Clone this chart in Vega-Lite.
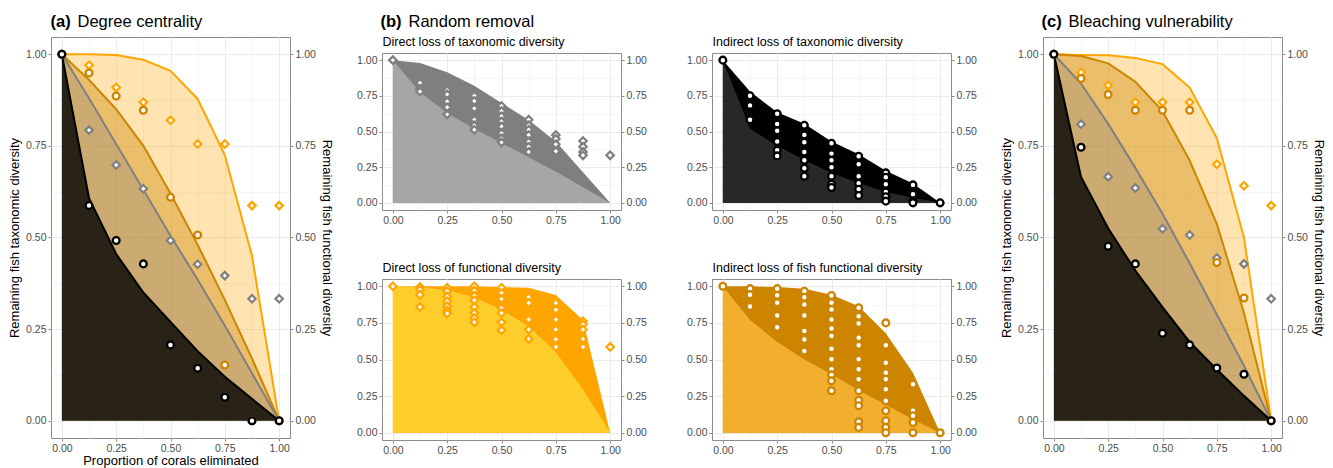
{
"$schema": "https://vega.github.io/schema/vega-lite/v6.json",
"background": "white",
"padding": {"left": 8, "top": 13, "right": 5, "bottom": 0},
"config": {
  "font": "Liberation Sans",
  "view": {"stroke": "#8C8C8C", "strokeWidth": 1},
  "axis": {"labelFont": "Liberation Sans", "labelFontSize": 10.5, "labelColor": "#4D4D4D", "titleFont": "Liberation Sans", "titleFontSize": 13, "titleFontWeight": "normal", "titleColor": "#000000", "tickColor": "#8C8C8C", "tickSize": 3, "tickWidth": 1, "domain": false, "labelPadding": 2, "labelOverlap": false, "labelFlush": false, "grid": false}
},
"datasets": {
  "lines": [
    {"p":"a","g":"DF","x":0,"y":1},{"p":"a","g":"DF","x":0.125,"y":1.0},{"p":"a","g":"DF","x":0.25,"y":0.998},{"p":"a","g":"DF","x":0.375,"y":0.985},{"p":"a","g":"DF","x":0.5,"y":0.955},{"p":"a","g":"DF","x":0.625,"y":0.878},{"p":"a","g":"DF","x":0.75,"y":0.725},{"p":"a","g":"DF","x":0.875,"y":0.45},{"p":"a","g":"DF","x":1,"y":0},
    {"p":"a","g":"IF","x":0,"y":1},{"p":"a","g":"IF","x":0.125,"y":0.93},{"p":"a","g":"IF","x":0.25,"y":0.85},{"p":"a","g":"IF","x":0.375,"y":0.75},{"p":"a","g":"IF","x":0.5,"y":0.62},{"p":"a","g":"IF","x":0.625,"y":0.48},{"p":"a","g":"IF","x":0.75,"y":0.33},{"p":"a","g":"IF","x":0.875,"y":0.17},{"p":"a","g":"IF","x":1,"y":0},
    {"p":"a","g":"DT","x":0,"y":1},{"p":"a","g":"DT","x":0.125,"y":0.88},{"p":"a","g":"DT","x":0.25,"y":0.755},{"p":"a","g":"DT","x":0.375,"y":0.63},{"p":"a","g":"DT","x":0.5,"y":0.505},{"p":"a","g":"DT","x":0.625,"y":0.385},{"p":"a","g":"DT","x":0.75,"y":0.26},{"p":"a","g":"DT","x":0.875,"y":0.13},{"p":"a","g":"DT","x":1,"y":0},
    {"p":"a","g":"IT","x":0,"y":1},{"p":"a","g":"IT","x":0.125,"y":0.607},{"p":"a","g":"IT","x":0.25,"y":0.455},{"p":"a","g":"IT","x":0.375,"y":0.35},{"p":"a","g":"IT","x":0.5,"y":0.27},{"p":"a","g":"IT","x":0.625,"y":0.19},{"p":"a","g":"IT","x":0.75,"y":0.12},{"p":"a","g":"IT","x":0.875,"y":0.06},{"p":"a","g":"IT","x":1,"y":0},
    {"p":"c","g":"DF","x":0,"y":1},{"p":"c","g":"DF","x":0.125,"y":0.998},{"p":"c","g":"DF","x":0.25,"y":0.997},{"p":"c","g":"DF","x":0.375,"y":0.99},{"p":"c","g":"DF","x":0.5,"y":0.973},{"p":"c","g":"DF","x":0.625,"y":0.909},{"p":"c","g":"DF","x":0.75,"y":0.771},{"p":"c","g":"DF","x":0.875,"y":0.5},{"p":"c","g":"DF","x":1,"y":0},
    {"p":"c","g":"IF","x":0,"y":1},{"p":"c","g":"IF","x":0.125,"y":0.995},{"p":"c","g":"IF","x":0.25,"y":0.975},{"p":"c","g":"IF","x":0.375,"y":0.925},{"p":"c","g":"IF","x":0.5,"y":0.845},{"p":"c","g":"IF","x":0.625,"y":0.71},{"p":"c","g":"IF","x":0.75,"y":0.537},{"p":"c","g":"IF","x":0.875,"y":0.294},{"p":"c","g":"IF","x":1,"y":0},
    {"p":"c","g":"DT","x":0,"y":1},{"p":"c","g":"DT","x":0.125,"y":0.92},{"p":"c","g":"DT","x":0.25,"y":0.81},{"p":"c","g":"DT","x":0.375,"y":0.69},{"p":"c","g":"DT","x":0.5,"y":0.565},{"p":"c","g":"DT","x":0.625,"y":0.43},{"p":"c","g":"DT","x":0.75,"y":0.29},{"p":"c","g":"DT","x":0.875,"y":0.15},{"p":"c","g":"DT","x":1,"y":0},
    {"p":"c","g":"IT","x":0,"y":1},{"p":"c","g":"IT","x":0.125,"y":0.665},{"p":"c","g":"IT","x":0.25,"y":0.525},{"p":"c","g":"IT","x":0.375,"y":0.41},{"p":"c","g":"IT","x":0.5,"y":0.31},{"p":"c","g":"IT","x":0.625,"y":0.215},{"p":"c","g":"IT","x":0.75,"y":0.14},{"p":"c","g":"IT","x":0.875,"y":0.068},{"p":"c","g":"IT","x":1,"y":0}
  ],
  "pts": [
    {"p":"a","g":"DF","x":0,"y":1},{"p":"a","g":"DF","x":0.125,"y":0.97},{"p":"a","g":"DF","x":0.25,"y":0.909},{"p":"a","g":"DF","x":0.375,"y":0.869},{"p":"a","g":"DF","x":0.5,"y":0.82},{"p":"a","g":"DF","x":0.625,"y":0.755},{"p":"a","g":"DF","x":0.75,"y":0.755},{"p":"a","g":"DF","x":0.875,"y":0.587},{"p":"a","g":"DF","x":1,"y":0.587},
    {"p":"a","g":"DT","x":0,"y":1},{"p":"a","g":"DT","x":0.125,"y":0.793},{"p":"a","g":"DT","x":0.25,"y":0.698},{"p":"a","g":"DT","x":0.375,"y":0.633},{"p":"a","g":"DT","x":0.5,"y":0.492},{"p":"a","g":"DT","x":0.625,"y":0.427},{"p":"a","g":"DT","x":0.75,"y":0.396},{"p":"a","g":"DT","x":0.875,"y":0.333},{"p":"a","g":"DT","x":1,"y":0.333},
    {"p":"a","g":"IF","x":0,"y":1},{"p":"a","g":"IF","x":0.125,"y":0.949},{"p":"a","g":"IF","x":0.25,"y":0.886},{"p":"a","g":"IF","x":0.375,"y":0.847},{"p":"a","g":"IF","x":0.5,"y":0.61},{"p":"a","g":"IF","x":0.625,"y":0.507},{"p":"a","g":"IF","x":0.75,"y":0.152},{"p":"a","g":"IF","x":0.875,"y":0},{"p":"a","g":"IF","x":1,"y":0},
    {"p":"a","g":"IT","x":0,"y":1},{"p":"a","g":"IT","x":0.125,"y":0.587},{"p":"a","g":"IT","x":0.25,"y":0.492},{"p":"a","g":"IT","x":0.375,"y":0.428},{"p":"a","g":"IT","x":0.5,"y":0.207},{"p":"a","g":"IT","x":0.625,"y":0.143},{"p":"a","g":"IT","x":0.75,"y":0.064},{"p":"a","g":"IT","x":0.875,"y":0},{"p":"a","g":"IT","x":1,"y":0},
    {"p":"c","g":"DF","x":0,"y":1},{"p":"c","g":"DF","x":0.125,"y":0.951},{"p":"c","g":"DF","x":0.25,"y":0.915},{"p":"c","g":"DF","x":0.375,"y":0.869},{"p":"c","g":"DF","x":0.5,"y":0.869},{"p":"c","g":"DF","x":0.625,"y":0.869},{"p":"c","g":"DF","x":0.75,"y":0.7},{"p":"c","g":"DF","x":0.875,"y":0.641},{"p":"c","g":"DF","x":1,"y":0.587},
    {"p":"c","g":"DT","x":0,"y":1},{"p":"c","g":"DT","x":0.125,"y":0.809},{"p":"c","g":"DT","x":0.25,"y":0.666},{"p":"c","g":"DT","x":0.375,"y":0.635},{"p":"c","g":"DT","x":0.5,"y":0.524},{"p":"c","g":"DT","x":0.625,"y":0.507},{"p":"c","g":"DT","x":0.75,"y":0.444},{"p":"c","g":"DT","x":0.875,"y":0.428},{"p":"c","g":"DT","x":1,"y":0.333},
    {"p":"c","g":"IF","x":0,"y":1},{"p":"c","g":"IF","x":0.125,"y":0.934},{"p":"c","g":"IF","x":0.25,"y":0.89},{"p":"c","g":"IF","x":0.375,"y":0.847},{"p":"c","g":"IF","x":0.5,"y":0.847},{"p":"c","g":"IF","x":0.625,"y":0.847},{"p":"c","g":"IF","x":0.75,"y":0.432},{"p":"c","g":"IF","x":0.875,"y":0.335},{"p":"c","g":"IF","x":1,"y":0},
    {"p":"c","g":"IT","x":0,"y":1},{"p":"c","g":"IT","x":0.125,"y":0.746},{"p":"c","g":"IT","x":0.25,"y":0.476},{"p":"c","g":"IT","x":0.375,"y":0.428},{"p":"c","g":"IT","x":0.5,"y":0.239},{"p":"c","g":"IT","x":0.625,"y":0.207},{"p":"c","g":"IT","x":0.75,"y":0.144},{"p":"c","g":"IT","x":0.875,"y":0.127},{"p":"c","g":"IT","x":1,"y":0},
    {"p":"b1","x":0,"y":1},
    {"p":"b1","x":0.125,"y":0.84},{"p":"b1","x":0.125,"y":0.8},{"p":"b1","x":0.125,"y":0.78},
    {"p":"b1","x":0.25,"y":0.79},{"p":"b1","x":0.25,"y":0.76},{"p":"b1","x":0.25,"y":0.71},{"p":"b1","x":0.25,"y":0.67},{"p":"b1","x":0.25,"y":0.62},
    {"p":"b1","x":0.375,"y":0.75},{"p":"b1","x":0.375,"y":0.714},{"p":"b1","x":0.375,"y":0.662},{"p":"b1","x":0.375,"y":0.583},{"p":"b1","x":0.375,"y":0.543},{"p":"b1","x":0.375,"y":0.512},
    {"p":"b1","x":0.5,"y":0.679},{"p":"b1","x":0.5,"y":0.643},{"p":"b1","x":0.5,"y":0.607},{"p":"b1","x":0.5,"y":0.571},{"p":"b1","x":0.5,"y":0.536},{"p":"b1","x":0.5,"y":0.488},{"p":"b1","x":0.5,"y":0.452},{"p":"b1","x":0.5,"y":0.424},
    {"p":"b1","x":0.625,"y":0.583},{"p":"b1","x":0.625,"y":0.543},{"p":"b1","x":0.625,"y":0.512},{"p":"b1","x":0.625,"y":0.476},{"p":"b1","x":0.625,"y":0.429},{"p":"b1","x":0.625,"y":0.393},{"p":"b1","x":0.625,"y":0.357},
    {"p":"b1","x":0.75,"y":0.476},{"p":"b1","x":0.75,"y":0.448},{"p":"b1","x":0.75,"y":0.41},{"p":"b1","x":0.75,"y":0.362},
    {"p":"b1","x":0.875,"y":0.433},{"p":"b1","x":0.875,"y":0.393},{"p":"b1","x":0.875,"y":0.357},{"p":"b1","x":0.875,"y":0.333},
    {"p":"b1","x":1,"y":0.333},
    {"p":"b2","x":0,"y":1},
    {"p":"b2","x":0.125,"y":0.75},{"p":"b2","x":0.125,"y":0.683},{"p":"b2","x":0.125,"y":0.583},
    {"p":"b2","x":0.25,"y":0.624},{"p":"b2","x":0.25,"y":0.552},{"p":"b2","x":0.25,"y":0.505},{"p":"b2","x":0.25,"y":0.43},{"p":"b2","x":0.25,"y":0.369},{"p":"b2","x":0.25,"y":0.329},
    {"p":"b2","x":0.375,"y":0.543},{"p":"b2","x":0.375,"y":0.476},{"p":"b2","x":0.375,"y":0.424},{"p":"b2","x":0.375,"y":0.357},{"p":"b2","x":0.375,"y":0.298},{"p":"b2","x":0.375,"y":0.243},{"p":"b2","x":0.375,"y":0.186},
    {"p":"b2","x":0.5,"y":0.417},{"p":"b2","x":0.5,"y":0.345},{"p":"b2","x":0.5,"y":0.298},{"p":"b2","x":0.5,"y":0.25},{"p":"b2","x":0.5,"y":0.186},{"p":"b2","x":0.5,"y":0.131},{"p":"b2","x":0.5,"y":0.107},
    {"p":"b2","x":0.625,"y":0.326},{"p":"b2","x":0.625,"y":0.271},{"p":"b2","x":0.625,"y":0.186},{"p":"b2","x":0.625,"y":0.138},{"p":"b2","x":0.625,"y":0.095},{"p":"b2","x":0.625,"y":0.052},
    {"p":"b2","x":0.75,"y":0.21},{"p":"b2","x":0.75,"y":0.179},{"p":"b2","x":0.75,"y":0.131},{"p":"b2","x":0.75,"y":0.076},{"p":"b2","x":0.75,"y":0.043},{"p":"b2","x":0.75,"y":0.012},
    {"p":"b2","x":0.875,"y":0.126},{"p":"b2","x":0.875,"y":0.06},{"p":"b2","x":0.875,"y":0.012},{"p":"b2","x":0.875,"y":0},
    {"p":"b2","x":1,"y":0},
    {"p":"b3","x":0,"y":1},
    {"p":"b3","x":0.125,"y":0.995},{"p":"b3","x":0.125,"y":0.977},{"p":"b3","x":0.125,"y":0.943},{"p":"b3","x":0.125,"y":0.859},
    {"p":"b3","x":0.25,"y":0.99},{"p":"b3","x":0.25,"y":0.966},{"p":"b3","x":0.25,"y":0.93},{"p":"b3","x":0.25,"y":0.898},{"p":"b3","x":0.25,"y":0.864},{"p":"b3","x":0.25,"y":0.834},{"p":"b3","x":0.25,"y":0.814},
    {"p":"b3","x":0.375,"y":1},{"p":"b3","x":0.375,"y":0.97},{"p":"b3","x":0.375,"y":0.936},{"p":"b3","x":0.375,"y":0.905},{"p":"b3","x":0.375,"y":0.859},{"p":"b3","x":0.375,"y":0.818},{"p":"b3","x":0.375,"y":0.784},{"p":"b3","x":0.375,"y":0.755},
    {"p":"b3","x":0.5,"y":0.99},{"p":"b3","x":0.5,"y":0.955},{"p":"b3","x":0.5,"y":0.914},{"p":"b3","x":0.5,"y":0.852},{"p":"b3","x":0.5,"y":0.818},{"p":"b3","x":0.5,"y":0.755},{"p":"b3","x":0.5,"y":0.7},
    {"p":"b3","x":0.625,"y":0.925},{"p":"b3","x":0.625,"y":0.886},{"p":"b3","x":0.625,"y":0.773},{"p":"b3","x":0.625,"y":0.705},{"p":"b3","x":0.625,"y":0.641},
    {"p":"b3","x":0.75,"y":0.886},{"p":"b3","x":0.75,"y":0.84},{"p":"b3","x":0.75,"y":0.773},{"p":"b3","x":0.75,"y":0.705},{"p":"b3","x":0.75,"y":0.639},{"p":"b3","x":0.75,"y":0.586},
    {"p":"b3","x":0.875,"y":0.761},{"p":"b3","x":0.875,"y":0.739},{"p":"b3","x":0.875,"y":0.705},{"p":"b3","x":0.875,"y":0.641},{"p":"b3","x":0.875,"y":0.586},
    {"p":"b3","x":1,"y":0.586},
    {"p":"b4","x":0,"y":1},
    {"p":"b4","x":0.125,"y":0.984},{"p":"b4","x":0.125,"y":0.943},{"p":"b4","x":0.125,"y":0.862},
    {"p":"b4","x":0.25,"y":0.984},{"p":"b4","x":0.25,"y":0.939},{"p":"b4","x":0.25,"y":0.887},{"p":"b4","x":0.25,"y":0.8},{"p":"b4","x":0.25,"y":0.72},
    {"p":"b4","x":0.375,"y":0.966},{"p":"b4","x":0.375,"y":0.925},{"p":"b4","x":0.375,"y":0.875},{"p":"b4","x":0.375,"y":0.8},{"p":"b4","x":0.375,"y":0.694},{"p":"b4","x":0.375,"y":0.637},{"p":"b4","x":0.375,"y":0.558},
    {"p":"b4","x":0.5,"y":0.937},{"p":"b4","x":0.5,"y":0.887},{"p":"b4","x":0.5,"y":0.841},{"p":"b4","x":0.5,"y":0.773},{"p":"b4","x":0.5,"y":0.712},{"p":"b4","x":0.5,"y":0.66},{"p":"b4","x":0.5,"y":0.574},{"p":"b4","x":0.5,"y":0.501},{"p":"b4","x":0.5,"y":0.433},{"p":"b4","x":0.5,"y":0.395},{"p":"b4","x":0.5,"y":0.354},{"p":"b4","x":0.5,"y":0.286},
    {"p":"b4","x":0.625,"y":0.853},{"p":"b4","x":0.625,"y":0.796},{"p":"b4","x":0.625,"y":0.746},{"p":"b4","x":0.625,"y":0.649},{"p":"b4","x":0.625,"y":0.597},{"p":"b4","x":0.625,"y":0.501},{"p":"b4","x":0.625,"y":0.433},{"p":"b4","x":0.625,"y":0.365},{"p":"b4","x":0.625,"y":0.286},{"p":"b4","x":0.625,"y":0.222},{"p":"b4","x":0.625,"y":0.184},{"p":"b4","x":0.625,"y":0.075},{"p":"b4","x":0.625,"y":0.036},
    {"p":"b4","x":0.75,"y":0.75},{"p":"b4","x":0.75,"y":0.597},{"p":"b4","x":0.75,"y":0.478},{"p":"b4","x":0.75,"y":0.41},{"p":"b4","x":0.75,"y":0.365},{"p":"b4","x":0.75,"y":0.297},{"p":"b4","x":0.75,"y":0.218},{"p":"b4","x":0.75,"y":0.15},{"p":"b4","x":0.75,"y":0.082},{"p":"b4","x":0.75,"y":0.036},{"p":"b4","x":0.75,"y":0},
    {"p":"b4","x":0.875,"y":0.331},{"p":"b4","x":0.875,"y":0.15},{"p":"b4","x":0.875,"y":0.116},{"p":"b4","x":0.875,"y":0.07},{"p":"b4","x":0.875,"y":0},
    {"p":"b4","x":1,"y":0}
  ],
  "bands": [
    {"p":"b1","x":0,"hi":1,"lo":1},{"p":"b1","x":0.125,"hi":0.98,"lo":0.775},{"p":"b1","x":0.25,"hi":0.915,"lo":0.63},{"p":"b1","x":0.375,"hi":0.82,"lo":0.52},{"p":"b1","x":0.5,"hi":0.7,"lo":0.42},{"p":"b1","x":0.625,"hi":0.58,"lo":0.32},{"p":"b1","x":0.75,"hi":0.43,"lo":0.22},{"p":"b1","x":0.875,"hi":0.215,"lo":0.11},{"p":"b1","x":1,"hi":0,"lo":0},
    {"p":"b2","x":0,"hi":1,"lo":1},{"p":"b2","x":0.125,"hi":0.78,"lo":0.52},{"p":"b2","x":0.25,"hi":0.635,"lo":0.4},{"p":"b2","x":0.375,"hi":0.555,"lo":0.3},{"p":"b2","x":0.5,"hi":0.43,"lo":0.21},{"p":"b2","x":0.625,"hi":0.34,"lo":0.14},{"p":"b2","x":0.75,"hi":0.225,"lo":0.076},{"p":"b2","x":0.875,"hi":0.135,"lo":0.036},{"p":"b2","x":1,"hi":0,"lo":0},
    {"p":"b3","x":0,"hi":1,"lo":1},{"p":"b3","x":0.125,"hi":1,"lo":0.995},{"p":"b3","x":0.25,"hi":1,"lo":0.973},{"p":"b3","x":0.375,"hi":1,"lo":0.925},{"p":"b3","x":0.5,"hi":0.995,"lo":0.84},{"p":"b3","x":0.625,"hi":0.99,"lo":0.727},{"p":"b3","x":0.75,"hi":0.94,"lo":0.55},{"p":"b3","x":0.875,"hi":0.77,"lo":0.295},{"p":"b3","x":1,"hi":0,"lo":0},
    {"p":"b4","x":0,"hi":1,"lo":1},{"p":"b4","x":0.125,"hi":1,"lo":0.77},{"p":"b4","x":0.25,"hi":0.995,"lo":0.62},{"p":"b4","x":0.375,"hi":0.984,"lo":0.5},{"p":"b4","x":0.5,"hi":0.943,"lo":0.4},{"p":"b4","x":0.625,"hi":0.864,"lo":0.29},{"p":"b4","x":0.75,"hi":0.68,"lo":0.19},{"p":"b4","x":0.875,"hi":0.41,"lo":0.09},{"p":"b4","x":1,"hi":0,"lo":0}
  ]
},
"spacing": 23,
"hconcat": [
  {
    "width": 239, "height": 401,
    "layer": [
      {"data": {"name": "lines"}, "transform": [{"filter": "datum.p=='a' && datum.g=='DF'"}], "mark": {"type": "area", "color": "#FFA500", "opacity": 0.3},
       "encoding": {
         "x": {"field": "x", "type": "quantitative", "scale": {"domain": [-0.05, 1.05], "nice": false, "zero": false}, "axis": {"orient": "bottom", "values": [0,0.125,0.25,0.375,0.5,0.625,0.75,0.875,1], "format": ".2f", "labelExpr": "datum.value*4%1==0 ? datum.label : ''", "tickOpacity": {"condition": {"test": "datum.value*4%1!=0", "value": 0}, "value": 1}, "grid": true, "gridColor": "#EBEBEB", "gridWidth": {"condition": {"test": "datum.value*4%1!=0", "value": 0.5}, "value": 1}, "title": "Proportion of corals eliminated", "titlePadding": 1}},
         "y": {"field": "y", "type": "quantitative", "scale": {"domain": [-0.047, 1.047], "nice": false, "zero": false}, "axis": {"orient": "left", "values": [0,0.125,0.25,0.375,0.5,0.625,0.75,0.875,1], "format": ".2f", "labelExpr": "datum.value*4%1==0 ? datum.label : ''", "tickOpacity": {"condition": {"test": "datum.value*4%1!=0", "value": 0}, "value": 1}, "grid": true, "gridColor": "#EBEBEB", "gridWidth": {"condition": {"test": "datum.value*4%1!=0", "value": 0.5}, "value": 1}, "title": "Remaining fish taxonomic diversity", "titlePadding": 4}}
       }},
      {"data": {"name": "lines"}, "transform": [{"filter": "datum.p=='a' && datum.g=='IF'"}], "mark": {"type": "area", "color": "#CD8500", "opacity": 0.4},
       "encoding": {
         "x": {"field": "x", "type": "quantitative", "scale": {"domain": [-0.05, 1.05], "nice": false, "zero": false}, "axis": {"orient": "top", "labels": false, "ticks": false, "grid": false, "title": "(a)", "titleX": -1, "titleY": -10.5, "titleAlign": "left", "titleAngle": 0, "titleBaseline": "alphabetic", "titleFontSize": 16.5, "titleFontWeight": "bold"}},
         "y": {"field": "y", "type": "quantitative", "scale": {"domain": [-0.047, 1.047], "nice": false, "zero": false}, "axis": {"orient": "right", "values": [0,0.25,0.5,0.75,1], "format": ".2f", "grid": false, "title": "Remaining fish functional diversity", "titlePadding": 4}}
       }},
      {"data": {"name": "lines"}, "transform": [{"filter": "datum.p=='a' && datum.g=='DT'"}], "mark": {"type": "area", "color": "#808080", "opacity": 0.3},
       "encoding": {
         "x": {"field": "x", "type": "quantitative", "scale": {"domain": [-0.05, 1.05], "nice": false, "zero": false}, "axis": {"orient": "top", "labels": false, "ticks": false, "grid": false, "title": "Degree centrality", "titleX": 26, "titleY": -10.5, "titleAlign": "left", "titleAngle": 0, "titleBaseline": "alphabetic", "titleFontSize": 16.5, "titleFontWeight": "normal"}},
         "y": {"field": "y", "type": "quantitative", "scale": {"domain": [-0.047, 1.047], "nice": false, "zero": false}, "axis": null}
       }},
      {"data": {"name": "lines"}, "transform": [{"filter": "datum.p=='a' && datum.g=='IT'"}], "mark": {"type": "area", "color": "#000000", "opacity": 0.8},
       "encoding": {
         "x": {"field": "x", "type": "quantitative", "scale": {"domain": [-0.05, 1.05], "nice": false, "zero": false}, "axis": null},
         "y": {"field": "y", "type": "quantitative", "scale": {"domain": [-0.047, 1.047], "nice": false, "zero": false}, "axis": null}
       }},
      {"data": {"name": "lines"}, "transform": [{"filter": "datum.p=='a'"}], "mark": {"type": "line", "strokeWidth": 2},
       "encoding": {
         "x": {"field": "x", "type": "quantitative", "scale": {"domain": [-0.05, 1.05], "nice": false, "zero": false}, "axis": null},
         "y": {"field": "y", "type": "quantitative", "scale": {"domain": [-0.047, 1.047], "nice": false, "zero": false}, "axis": null},
         "stroke": {"field": "g", "type": "nominal", "scale": {"domain": ["DF","IF","DT","IT"], "range": ["#FFA500","#CD8500","#808080","#000000"]}, "legend": null}
       }},
      {"data": {"name": "pts"}, "transform": [{"filter": "datum.p=='a' && (datum.g=='DF' || datum.g=='DT')"}], "mark": {"type": "point", "shape": "diamond", "filled": true, "fill": "white", "fillOpacity": 1, "strokeWidth": 2.2, "size": 56, "opacity": 1},
       "encoding": {
         "x": {"field": "x", "type": "quantitative", "scale": {"domain": [-0.05, 1.05], "nice": false, "zero": false}, "axis": null},
         "y": {"field": "y", "type": "quantitative", "scale": {"domain": [-0.047, 1.047], "nice": false, "zero": false}, "axis": null},
         "stroke": {"field": "g", "type": "nominal", "scale": {"domain": ["DF","IF","DT","IT"], "range": ["#FFA500","#CD8500","#808080","#000000"]}, "legend": null}
       }},
      {"data": {"name": "pts"}, "transform": [{"filter": "datum.p=='a' && (datum.g=='IF' || datum.g=='IT')"}], "mark": {"type": "point", "shape": "circle", "filled": true, "fill": "white", "fillOpacity": 1, "strokeWidth": 2.3, "size": 46, "opacity": 1},
       "encoding": {
         "x": {"field": "x", "type": "quantitative", "scale": {"domain": [-0.05, 1.05], "nice": false, "zero": false}, "axis": null},
         "y": {"field": "y", "type": "quantitative", "scale": {"domain": [-0.047, 1.047], "nice": false, "zero": false}, "axis": null},
         "stroke": {"field": "g", "type": "nominal", "scale": {"domain": ["DF","IF","DT","IT"], "range": ["#FFA500","#CD8500","#808080","#000000"]}, "legend": null}
       }}
    ],
    "resolve": {"axis": {"x": "independent", "y": "independent"}}
  },
  {
    "spacing": 0,
    "vconcat": [
      {
        "width": 569, "height": 14,
        "view": {"stroke": null},
        "layer": [
          {"data": {"name": "bands"}, "transform": [{"filter": "datum.p=='b1'"}], "mark": {"type": "point", "opacity": 0, "size": 0, "strokeWidth": 0},
           "encoding": {
             "x": {"field": "x", "type": "quantitative", "scale": {"domain": [-0.05, 1.05], "nice": false, "zero": false}, "axis": {"orient": "top", "labels": false, "ticks": false, "grid": false, "title": "(b)", "titleX": -2, "titleY": -10.5, "titleAlign": "left", "titleAngle": 0, "titleBaseline": "alphabetic", "titleFontSize": 16.5, "titleFontWeight": "bold"}},
             "y": {"field": "hi", "type": "quantitative", "scale": {"domain": [-0.05, 1.05], "nice": false, "zero": false}, "axis": {"orient": "left", "labels": false, "ticks": false, "grid": false, "title": "Random removal", "titleX": 26, "titleY": -10.5, "titleAlign": "left", "titleAngle": 0, "titleBaseline": "alphabetic", "titleFontSize": 16.5, "titleFontWeight": "normal"}}
           }},
          {"data": {"name": "bands"}, "transform": [{"filter": "datum.p=='b1'"}], "mark": {"type": "point", "opacity": 0, "size": 0, "strokeWidth": 0},
           "encoding": {
             "x": {"field": "x", "type": "quantitative", "scale": {"domain": [-0.05, 1.05], "nice": false, "zero": false}, "axis": {"orient": "top", "labels": false, "ticks": false, "grid": false, "title": "Direct loss of taxonomic diversity", "titleX": 0, "titleY": 8, "titleAlign": "left", "titleAngle": 0, "titleBaseline": "alphabetic", "titleFontSize": 12.5, "titleFontWeight": "normal"}},
             "y": {"field": "lo", "type": "quantitative", "scale": {"domain": [-0.05, 1.05], "nice": false, "zero": false}, "axis": {"orient": "right", "labels": false, "ticks": false, "grid": false, "title": "Indirect loss of taxonomic diversity", "titleX": -239, "titleY": 8, "titleAlign": "left", "titleAngle": 0, "titleBaseline": "alphabetic", "titleFontSize": 12.5, "titleFontWeight": "normal"}}
           }}
        ],
        "resolve": {"axis": {"x": "independent", "y": "independent"}}
      },
      {
        "spacing": 34,
        "vconcat": [
          {
            "bounds": "flush", "spacing": 91,
            "hconcat": [
              {
                "width": 239, "height": 157,
                "layer": [
                  {"data": {"name": "bands"}, "transform": [{"filter": "datum.p=='b1'"}], "mark": {"type": "area", "color": "#7F7F7F", "opacity": 1},
                   "encoding": {
                     "x": {"field": "x", "type": "quantitative", "scale": {"domain": [-0.05, 1.05], "nice": false, "zero": false}, "axis": {"orient": "bottom", "values": [0,0.125,0.25,0.375,0.5,0.625,0.75,0.875,1], "format": ".2f", "labelExpr": "datum.value*4%1==0 ? datum.label : ''", "tickOpacity": {"condition": {"test": "datum.value*4%1!=0", "value": 0}, "value": 1}, "grid": true, "gridColor": "#EBEBEB", "gridWidth": {"condition": {"test": "datum.value*4%1!=0", "value": 0.5}, "value": 1}, "title": null}},
                     "y": {"field": "hi", "type": "quantitative", "scale": {"domain": [-0.05, 1.05], "nice": false, "zero": false}, "axis": {"orient": "left", "values": [0,0.125,0.25,0.375,0.5,0.625,0.75,0.875,1], "format": ".2f", "labelExpr": "datum.value*4%1==0 ? datum.label : ''", "tickOpacity": {"condition": {"test": "datum.value*4%1!=0", "value": 0}, "value": 1}, "grid": true, "gridColor": "#EBEBEB", "gridWidth": {"condition": {"test": "datum.value*4%1!=0", "value": 0.5}, "value": 1}, "title": null}}
                   }},
                  {"data": {"name": "bands"}, "transform": [{"filter": "datum.p=='b1'"}], "mark": {"type": "area", "color": "#A6A6A6", "opacity": 1},
                   "encoding": {
                     "x": {"field": "x", "type": "quantitative", "scale": {"domain": [-0.05, 1.05], "nice": false, "zero": false}, "axis": null},
                     "y": {"field": "lo", "type": "quantitative", "scale": {"domain": [-0.05, 1.05], "nice": false, "zero": false}, "axis": {"orient": "right", "values": [0,0.25,0.5,0.75,1], "format": ".2f", "grid": false, "title": null}}
                   }},
                  {"data": {"name": "pts"}, "transform": [{"filter": "datum.p=='b1'"}], "mark": {"type": "point", "shape": "diamond", "filled": true, "fill": "white", "fillOpacity": 1, "stroke": "#7F7F7F", "strokeWidth": 2.2, "size": 56, "opacity": 1},
                   "encoding": {
                     "x": {"field": "x", "type": "quantitative", "scale": {"domain": [-0.05, 1.05], "nice": false, "zero": false}, "axis": null},
                     "y": {"field": "y", "type": "quantitative", "scale": {"domain": [-0.05, 1.05], "nice": false, "zero": false}, "axis": null}
                   }}
                ],
                "resolve": {"axis": {"x": "independent", "y": "independent"}}
              },
              {
                "width": 239, "height": 157,
                "layer": [
                  {"data": {"name": "bands"}, "transform": [{"filter": "datum.p=='b2'"}], "mark": {"type": "area", "color": "#000000", "opacity": 1},
                   "encoding": {
                     "x": {"field": "x", "type": "quantitative", "scale": {"domain": [-0.05, 1.05], "nice": false, "zero": false}, "axis": {"orient": "bottom", "values": [0,0.125,0.25,0.375,0.5,0.625,0.75,0.875,1], "format": ".2f", "labelExpr": "datum.value*4%1==0 ? datum.label : ''", "tickOpacity": {"condition": {"test": "datum.value*4%1!=0", "value": 0}, "value": 1}, "grid": true, "gridColor": "#EBEBEB", "gridWidth": {"condition": {"test": "datum.value*4%1!=0", "value": 0.5}, "value": 1}, "title": null}},
                     "y": {"field": "hi", "type": "quantitative", "scale": {"domain": [-0.05, 1.05], "nice": false, "zero": false}, "axis": {"orient": "left", "values": [0,0.125,0.25,0.375,0.5,0.625,0.75,0.875,1], "format": ".2f", "labelExpr": "datum.value*4%1==0 ? datum.label : ''", "tickOpacity": {"condition": {"test": "datum.value*4%1!=0", "value": 0}, "value": 1}, "grid": true, "gridColor": "#EBEBEB", "gridWidth": {"condition": {"test": "datum.value*4%1!=0", "value": 0.5}, "value": 1}, "title": null}}
                   }},
                  {"data": {"name": "bands"}, "transform": [{"filter": "datum.p=='b2'"}], "mark": {"type": "area", "color": "#282828", "opacity": 1},
                   "encoding": {
                     "x": {"field": "x", "type": "quantitative", "scale": {"domain": [-0.05, 1.05], "nice": false, "zero": false}, "axis": null},
                     "y": {"field": "lo", "type": "quantitative", "scale": {"domain": [-0.05, 1.05], "nice": false, "zero": false}, "axis": {"orient": "right", "values": [0,0.25,0.5,0.75,1], "format": ".2f", "grid": false, "title": null}}
                   }},
                  {"data": {"name": "pts"}, "transform": [{"filter": "datum.p=='b2'"}], "mark": {"type": "point", "shape": "circle", "filled": true, "fill": "white", "fillOpacity": 1, "stroke": "#000000", "strokeWidth": 2.3, "size": 46, "opacity": 1},
                   "encoding": {
                     "x": {"field": "x", "type": "quantitative", "scale": {"domain": [-0.05, 1.05], "nice": false, "zero": false}, "axis": null},
                     "y": {"field": "y", "type": "quantitative", "scale": {"domain": [-0.05, 1.05], "nice": false, "zero": false}, "axis": null}
                   }}
                ],
                "resolve": {"axis": {"x": "independent", "y": "independent"}}
              }
            ]
          },
          {
            "bounds": "flush", "spacing": 91,
            "hconcat": [
              {
                "width": 239, "height": 161,
                "layer": [
                  {"data": {"name": "bands"}, "transform": [{"filter": "datum.p=='b3'"}], "mark": {"type": "area", "color": "#FFA500", "opacity": 1},
                   "encoding": {
                     "x": {"field": "x", "type": "quantitative", "scale": {"domain": [-0.05, 1.05], "nice": false, "zero": false}, "axis": {"orient": "bottom", "values": [0,0.125,0.25,0.375,0.5,0.625,0.75,0.875,1], "format": ".2f", "labelExpr": "datum.value*4%1==0 ? datum.label : ''", "tickOpacity": {"condition": {"test": "datum.value*4%1!=0", "value": 0}, "value": 1}, "grid": true, "gridColor": "#EBEBEB", "gridWidth": {"condition": {"test": "datum.value*4%1!=0", "value": 0.5}, "value": 1}, "title": null}},
                     "y": {"field": "hi", "type": "quantitative", "scale": {"domain": [-0.05, 1.05], "nice": false, "zero": false}, "axis": {"orient": "left", "values": [0,0.125,0.25,0.375,0.5,0.625,0.75,0.875,1], "format": ".2f", "labelExpr": "datum.value*4%1==0 ? datum.label : ''", "tickOpacity": {"condition": {"test": "datum.value*4%1!=0", "value": 0}, "value": 1}, "grid": true, "gridColor": "#EBEBEB", "gridWidth": {"condition": {"test": "datum.value*4%1!=0", "value": 0.5}, "value": 1}, "title": null}}
                   }},
                  {"data": {"name": "bands"}, "transform": [{"filter": "datum.p=='b3'"}], "mark": {"type": "area", "color": "#FDCD2B", "opacity": 1},
                   "encoding": {
                     "x": {"field": "x", "type": "quantitative", "scale": {"domain": [-0.05, 1.05], "nice": false, "zero": false}, "axis": {"orient": "top", "labels": false, "ticks": false, "grid": false, "title": "Direct loss of functional diversity", "titleX": 0, "titleY": -8, "titleAlign": "left", "titleAngle": 0, "titleBaseline": "alphabetic", "titleFontSize": 12.5, "titleFontWeight": "normal"}},
                     "y": {"field": "lo", "type": "quantitative", "scale": {"domain": [-0.05, 1.05], "nice": false, "zero": false}, "axis": {"orient": "right", "values": [0,0.25,0.5,0.75,1], "format": ".2f", "grid": false, "title": null}}
                   }},
                  {"data": {"name": "pts"}, "transform": [{"filter": "datum.p=='b3'"}], "mark": {"type": "point", "shape": "diamond", "filled": true, "fill": "white", "fillOpacity": 1, "stroke": "#FFA500", "strokeWidth": 2.2, "size": 56, "opacity": 1},
                   "encoding": {
                     "x": {"field": "x", "type": "quantitative", "scale": {"domain": [-0.05, 1.05], "nice": false, "zero": false}, "axis": null},
                     "y": {"field": "y", "type": "quantitative", "scale": {"domain": [-0.05, 1.05], "nice": false, "zero": false}, "axis": null}
                   }}
                ],
                "resolve": {"axis": {"x": "independent", "y": "independent"}}
              },
              {
                "width": 239, "height": 161,
                "layer": [
                  {"data": {"name": "bands"}, "transform": [{"filter": "datum.p=='b4'"}], "mark": {"type": "area", "color": "#CD8500", "opacity": 1},
                   "encoding": {
                     "x": {"field": "x", "type": "quantitative", "scale": {"domain": [-0.05, 1.05], "nice": false, "zero": false}, "axis": {"orient": "bottom", "values": [0,0.125,0.25,0.375,0.5,0.625,0.75,0.875,1], "format": ".2f", "labelExpr": "datum.value*4%1==0 ? datum.label : ''", "tickOpacity": {"condition": {"test": "datum.value*4%1!=0", "value": 0}, "value": 1}, "grid": true, "gridColor": "#EBEBEB", "gridWidth": {"condition": {"test": "datum.value*4%1!=0", "value": 0.5}, "value": 1}, "title": null}},
                     "y": {"field": "hi", "type": "quantitative", "scale": {"domain": [-0.05, 1.05], "nice": false, "zero": false}, "axis": {"orient": "left", "values": [0,0.125,0.25,0.375,0.5,0.625,0.75,0.875,1], "format": ".2f", "labelExpr": "datum.value*4%1==0 ? datum.label : ''", "tickOpacity": {"condition": {"test": "datum.value*4%1!=0", "value": 0}, "value": 1}, "grid": true, "gridColor": "#EBEBEB", "gridWidth": {"condition": {"test": "datum.value*4%1!=0", "value": 0.5}, "value": 1}, "title": null}}
                   }},
                  {"data": {"name": "bands"}, "transform": [{"filter": "datum.p=='b4'"}], "mark": {"type": "area", "color": "#F2AF2F", "opacity": 1},
                   "encoding": {
                     "x": {"field": "x", "type": "quantitative", "scale": {"domain": [-0.05, 1.05], "nice": false, "zero": false}, "axis": {"orient": "top", "labels": false, "ticks": false, "grid": false, "title": "Indirect loss of fish functional diversity", "titleX": 0, "titleY": -8, "titleAlign": "left", "titleAngle": 0, "titleBaseline": "alphabetic", "titleFontSize": 12.5, "titleFontWeight": "normal"}},
                     "y": {"field": "lo", "type": "quantitative", "scale": {"domain": [-0.05, 1.05], "nice": false, "zero": false}, "axis": {"orient": "right", "values": [0,0.25,0.5,0.75,1], "format": ".2f", "grid": false, "title": null}}
                   }},
                  {"data": {"name": "pts"}, "transform": [{"filter": "datum.p=='b4'"}], "mark": {"type": "point", "shape": "circle", "filled": true, "fill": "white", "fillOpacity": 1, "stroke": "#CD8500", "strokeWidth": 2.3, "size": 46, "opacity": 1},
                   "encoding": {
                     "x": {"field": "x", "type": "quantitative", "scale": {"domain": [-0.05, 1.05], "nice": false, "zero": false}, "axis": null},
                     "y": {"field": "y", "type": "quantitative", "scale": {"domain": [-0.05, 1.05], "nice": false, "zero": false}, "axis": null}
                   }}
                ],
                "resolve": {"axis": {"x": "independent", "y": "independent"}}
              }
            ]
          }
        ]
      }
    ]
  },
  {
    "width": 239, "height": 401,
    "layer": [
      {"data": {"name": "lines"}, "transform": [{"filter": "datum.p=='c' && datum.g=='DF'"}], "mark": {"type": "area", "color": "#FFA500", "opacity": 0.3},
       "encoding": {
         "x": {"field": "x", "type": "quantitative", "scale": {"domain": [-0.05, 1.05], "nice": false, "zero": false}, "axis": {"orient": "bottom", "values": [0,0.125,0.25,0.375,0.5,0.625,0.75,0.875,1], "format": ".2f", "labelExpr": "datum.value*4%1==0 ? datum.label : ''", "tickOpacity": {"condition": {"test": "datum.value*4%1!=0", "value": 0}, "value": 1}, "grid": true, "gridColor": "#EBEBEB", "gridWidth": {"condition": {"test": "datum.value*4%1!=0", "value": 0.5}, "value": 1}, "title": null}},
         "y": {"field": "y", "type": "quantitative", "scale": {"domain": [-0.047, 1.047], "nice": false, "zero": false}, "axis": {"orient": "left", "values": [0,0.125,0.25,0.375,0.5,0.625,0.75,0.875,1], "format": ".2f", "labelExpr": "datum.value*4%1==0 ? datum.label : ''", "tickOpacity": {"condition": {"test": "datum.value*4%1!=0", "value": 0}, "value": 1}, "grid": true, "gridColor": "#EBEBEB", "gridWidth": {"condition": {"test": "datum.value*4%1!=0", "value": 0.5}, "value": 1}, "title": "Remaining fish taxonomic diversity", "titlePadding": 4}}
       }},
      {"data": {"name": "lines"}, "transform": [{"filter": "datum.p=='c' && datum.g=='IF'"}], "mark": {"type": "area", "color": "#CD8500", "opacity": 0.4},
       "encoding": {
         "x": {"field": "x", "type": "quantitative", "scale": {"domain": [-0.05, 1.05], "nice": false, "zero": false}, "axis": {"orient": "top", "labels": false, "ticks": false, "grid": false, "title": "(c)", "titleX": -2, "titleY": -10.5, "titleAlign": "left", "titleAngle": 0, "titleBaseline": "alphabetic", "titleFontSize": 16.5, "titleFontWeight": "bold"}},
         "y": {"field": "y", "type": "quantitative", "scale": {"domain": [-0.047, 1.047], "nice": false, "zero": false}, "axis": {"orient": "right", "values": [0,0.25,0.5,0.75,1], "format": ".2f", "grid": false, "title": "Remaining fish functional diversity", "titlePadding": 4}}
       }},
      {"data": {"name": "lines"}, "transform": [{"filter": "datum.p=='c' && datum.g=='DT'"}], "mark": {"type": "area", "color": "#808080", "opacity": 0.3},
       "encoding": {
         "x": {"field": "x", "type": "quantitative", "scale": {"domain": [-0.05, 1.05], "nice": false, "zero": false}, "axis": {"orient": "top", "labels": false, "ticks": false, "grid": false, "title": "Bleaching vulnerability", "titleX": 25, "titleY": -10.5, "titleAlign": "left", "titleAngle": 0, "titleBaseline": "alphabetic", "titleFontSize": 16.5, "titleFontWeight": "normal"}},
         "y": {"field": "y", "type": "quantitative", "scale": {"domain": [-0.047, 1.047], "nice": false, "zero": false}, "axis": null}
       }},
      {"data": {"name": "lines"}, "transform": [{"filter": "datum.p=='c' && datum.g=='IT'"}], "mark": {"type": "area", "color": "#000000", "opacity": 0.8},
       "encoding": {
         "x": {"field": "x", "type": "quantitative", "scale": {"domain": [-0.05, 1.05], "nice": false, "zero": false}, "axis": null},
         "y": {"field": "y", "type": "quantitative", "scale": {"domain": [-0.047, 1.047], "nice": false, "zero": false}, "axis": null}
       }},
      {"data": {"name": "lines"}, "transform": [{"filter": "datum.p=='c'"}], "mark": {"type": "line", "strokeWidth": 2},
       "encoding": {
         "x": {"field": "x", "type": "quantitative", "scale": {"domain": [-0.05, 1.05], "nice": false, "zero": false}, "axis": null},
         "y": {"field": "y", "type": "quantitative", "scale": {"domain": [-0.047, 1.047], "nice": false, "zero": false}, "axis": null},
         "stroke": {"field": "g", "type": "nominal", "scale": {"domain": ["DF","IF","DT","IT"], "range": ["#FFA500","#CD8500","#808080","#000000"]}, "legend": null}
       }},
      {"data": {"name": "pts"}, "transform": [{"filter": "datum.p=='c' && (datum.g=='DF' || datum.g=='DT')"}], "mark": {"type": "point", "shape": "diamond", "filled": true, "fill": "white", "fillOpacity": 1, "strokeWidth": 2.2, "size": 56, "opacity": 1},
       "encoding": {
         "x": {"field": "x", "type": "quantitative", "scale": {"domain": [-0.05, 1.05], "nice": false, "zero": false}, "axis": null},
         "y": {"field": "y", "type": "quantitative", "scale": {"domain": [-0.047, 1.047], "nice": false, "zero": false}, "axis": null},
         "stroke": {"field": "g", "type": "nominal", "scale": {"domain": ["DF","IF","DT","IT"], "range": ["#FFA500","#CD8500","#808080","#000000"]}, "legend": null}
       }},
      {"data": {"name": "pts"}, "transform": [{"filter": "datum.p=='c' && (datum.g=='IF' || datum.g=='IT')"}], "mark": {"type": "point", "shape": "circle", "filled": true, "fill": "white", "fillOpacity": 1, "strokeWidth": 2.3, "size": 46, "opacity": 1},
       "encoding": {
         "x": {"field": "x", "type": "quantitative", "scale": {"domain": [-0.05, 1.05], "nice": false, "zero": false}, "axis": null},
         "y": {"field": "y", "type": "quantitative", "scale": {"domain": [-0.047, 1.047], "nice": false, "zero": false}, "axis": null},
         "stroke": {"field": "g", "type": "nominal", "scale": {"domain": ["DF","IF","DT","IT"], "range": ["#FFA500","#CD8500","#808080","#000000"]}, "legend": null}
       }}
    ],
    "resolve": {"axis": {"x": "independent", "y": "independent"}}
  }
]
}
